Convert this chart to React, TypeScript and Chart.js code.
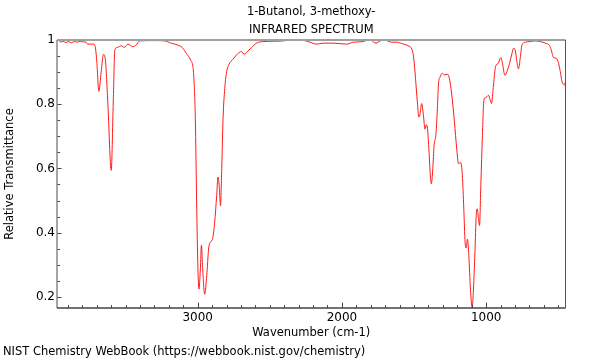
import React, { useEffect, useRef } from "react";
import { Chart, registerables } from "chart.js";

Chart.register(...registerables);

const titleLines = ["1-Butanol, 3-methoxy-", "INFRARED SPECTRUM"];
const footerText = "NIST Chemistry WebBook (https://webbook.nist.gov/chemistry)";
const xAxisTitle = "Wavenumber (cm-1)";
const yAxisTitle = "Relative Transmittance";

const xMajorTicks = [1000, 2000, 3000];
const yMajorTicks = [0.2, 0.4, 0.6, 0.8, 1];

const wavenumbers = [
  3975, 3965, 3950, 3935, 3915, 3895, 3875, 3855, 3835, 3815, 3795, 3773, 3762, 3720, 3710,
  3699, 3685, 3669, 3653, 3641, 3623, 3599, 3585, 3574, 3554, 3530, 3507, 3484, 3449, 3426,
  3403, 3299, 3229, 3183, 3137, 3113, 3102, 3078, 3049, 3033, 3026, 3016, 3007, 2998, 2991,
  2981, 2974, 2965, 2951, 2937, 2924, 2910, 2898, 2882, 2868, 2859, 2849, 2842, 2833, 2824,
  2812, 2801, 2785, 2755, 2720, 2697, 2678, 2655, 2627, 2592, 2546, 2477, 2408, 2361, 2269,
  2222, 2176, 2130, 2060, 1967, 1921, 1852, 1817, 1794, 1764, 1736, 1701, 1655, 1620, 1574,
  1540, 1516, 1505, 1495, 1488, 1477, 1467, 1458, 1447, 1435, 1424, 1415, 1408, 1396, 1387,
  1380, 1370, 1361, 1349, 1338, 1331, 1319, 1304, 1290, 1266, 1255, 1238, 1220, 1204, 1192,
  1176, 1165, 1155, 1146, 1139, 1130, 1120, 1109, 1097, 1088, 1078, 1069, 1062, 1053, 1046,
  1037, 1026, 1016, 1007, 995, 984, 972, 963, 949, 935, 917, 898, 887, 870, 856,
  838, 821, 810, 799, 787, 776, 764, 752, 729, 694, 660, 625, 590, 560, 549,
  533, 514, 498, 486, 474, 465, 458, 451,
];

const transmittance = [
  0.997, 0.999, 0.993, 0.996, 0.992, 0.995, 0.991, 0.995, 0.993, 0.996, 0.994, 0.993, 0.987, 0.987, 0.979,
  0.932, 0.84, 0.9, 0.955, 0.943, 0.807, 0.594, 0.807, 0.969, 0.977, 0.982, 0.977, 0.987, 0.979, 0.984,
  0.997, 0.998, 0.997, 0.99, 0.984, 0.979, 0.974, 0.958, 0.9375, 0.917, 0.88, 0.755, 0.495, 0.286, 0.224,
  0.287, 0.361, 0.286, 0.208, 0.266, 0.349, 0.372, 0.378, 0.432, 0.516, 0.573, 0.537, 0.484, 0.599, 0.755,
  0.849, 0.896, 0.922, 0.94, 0.958, 0.964, 0.955, 0.964, 0.976, 0.99, 0.995, 0.996, 0.997, 1.0, 0.999,
  0.993, 0.987, 0.99, 0.99, 0.987, 0.993, 0.995, 1.0, 0.998, 0.99, 0.997, 0.999, 0.993, 0.993, 0.987,
  0.982, 0.972, 0.953, 0.91, 0.87, 0.807, 0.76, 0.771, 0.802, 0.766, 0.722, 0.736, 0.729, 0.651, 0.578,
  0.552, 0.599, 0.672, 0.703, 0.787, 0.86, 0.885, 0.896, 0.891, 0.893, 0.88, 0.828, 0.745, 0.661, 0.615,
  0.618, 0.578, 0.474, 0.37, 0.352, 0.38, 0.328, 0.224, 0.167, 0.224, 0.338, 0.453, 0.474, 0.443, 0.422,
  0.547, 0.703, 0.8125, 0.82, 0.823, 0.828, 0.8125, 0.802, 0.86, 0.917, 0.927, 0.945, 0.927, 0.89, 0.901,
  0.927, 0.958, 0.974, 0.969, 0.932, 0.91, 0.943, 0.984, 0.993, 0.995, 0.997, 0.995, 0.99, 0.982, 0.969,
  0.945, 0.943, 0.927, 0.901, 0.87, 0.862, 0.865, 0.854,
];

const X_MIN = 450;
const X_MAX = 3975;
const X_STEP = 100;
const Y_MIN = 0.165;
const Y_MAX = 1.0;
const Y_STEP = 0.05;

const near = (a: number, b: number) => Math.abs(a - b) < 1e-6;
const isXMajor = (v: number) => xMajorTicks.some((m) => near(m, v));
const isYMajor = (v: number) => yMajorTicks.some((m) => near(m, v));

const stepValues = (lo: number, hi: number, step: number) => {
  const out: number[] = [];
  const start = Math.ceil(lo / step - 1e-9);
  const end = Math.floor(hi / step + 1e-9);
  for (let k = start; k <= end; k++) out.push(Math.round(k * step * 1000) / 1000);
  return out;
};

const framePlugin = {
  id: "frameTicks",
  afterDatasetsDraw(chart: any) {
    const { ctx, chartArea } = chart;
    const { left, right, top, bottom } = chartArea;
    const xs = chart.scales.x;
    const ys = chart.scales.y;
    ctx.save();
    ctx.strokeStyle = "#444";
    ctx.lineWidth = 1;
    ctx.beginPath();
    for (const t of xs.ticks) {
      if (near(t.value, X_MIN) || near(t.value, X_MAX)) continue;
      const px = Math.round(xs.getPixelForValue(t.value)) + 0.5;
      const len = isXMajor(t.value) ? 5.5 : 3;
      ctx.moveTo(px, bottom);
      ctx.lineTo(px, bottom - len);
    }
    for (const t of ys.ticks) {
      if (near(t.value, Y_MIN) || near(t.value, Y_MAX)) continue;
      const py = Math.round(ys.getPixelForValue(t.value)) + 0.5;
      const len = isYMajor(t.value) ? 4.5 : 3;
      ctx.moveTo(left, py);
      ctx.lineTo(left + len, py);
    }
    ctx.stroke();

    ctx.strokeStyle = "#a0a0a0";
    ctx.lineWidth = 2;
    ctx.beginPath();
    ctx.moveTo(left, top);
    ctx.lineTo(right, top);
    ctx.stroke();

    ctx.strokeStyle = "#888";
    ctx.lineWidth = 1.5;
    ctx.beginPath();
    ctx.moveTo(left, top);
    ctx.lineTo(left, bottom);
    ctx.stroke();

    ctx.strokeStyle = "#444";
    ctx.lineWidth = 1.5;
    ctx.beginPath();
    ctx.moveTo(left, bottom);
    ctx.lineTo(right, bottom);
    ctx.stroke();

    ctx.strokeStyle = "#555";
    ctx.lineWidth = 1;
    ctx.beginPath();
    ctx.moveTo(right, top);
    ctx.lineTo(right, bottom);
    ctx.stroke();
    ctx.restore();
  },
};

export default function App() {
  const canvasRef = useRef<HTMLCanvasElement | null>(null);

  useEffect(() => {
    const canvas = canvasRef.current;
    if (!canvas) return;
    Chart.defaults.font.family = "'DejaVu Sans', sans-serif";
    Chart.defaults.font.size = 12;
    Chart.defaults.color = "#000";

    const chart = new Chart(canvas, {
      type: "line",
      data: {
        datasets: [
          {
            label: "IR",
            data: wavenumbers.map((w, i) => ({ x: w, y: transmittance[i] })),
            borderColor: "#ff1a1a",
            borderWidth: 1,
            pointRadius: 0,
            fill: false,
            cubicInterpolationMode: "monotone",
          },
        ],
      },
      options: {
        responsive: false,
        animation: false,
        events: [],
        layout: { padding: { left: 3, right: 34.5, top: 0, bottom: 0 } },
        plugins: {
          legend: { display: false },
          tooltip: { enabled: false },
          title: {
            display: true,
            text: titleLines,
            fullSize: false,
            color: "#000",
            font: { size: 11.5, weight: "normal", lineHeight: 1.55 },
            padding: { top: 3, bottom: 1.3 },
          },
          subtitle: {
            display: true,
            text: footerText,
            position: "bottom",
            align: "start",
            color: "#000",
            font: { size: 11.5, weight: "normal", lineHeight: 1.2 },
            padding: { top: 0, bottom: 1 },
          },
        },
        scales: {
          x: {
            type: "linear",
            reverse: true,
            min: X_MIN,
            max: X_MAX,
            grid: { display: false, drawTicks: false },
            border: { display: false },
            afterBuildTicks: (scale: any) => {
              scale.ticks = stepValues(X_MIN, X_MAX, X_STEP).map((v) => ({ value: v }));
            },
            ticks: {
              autoSkip: false,
              maxRotation: 0,
              padding: 3,
              color: "#000",
              callback: (v: any) => (isXMajor(Number(v)) ? String(v) : ""),
            },
            title: {
              display: true,
              text: xAxisTitle,
              color: "#000",
              font: { size: 11.5 },
              padding: { top: 0, bottom: 5 },
            },
            afterFit: (scale: any) => {
              scale.height = 37.1;
            },
          },
          y: {
            type: "linear",
            min: Y_MIN,
            max: Y_MAX,
            grid: { display: false, drawTicks: false },
            border: { display: false },
            afterBuildTicks: (scale: any) => {
              scale.ticks = stepValues(Y_MIN, Y_MAX, Y_STEP).map((v) => ({ value: v }));
            },
            ticks: {
              autoSkip: false,
              padding: 2,
              color: "#000",
              callback: (v: any) => {
                const n = Number(v);
                if (!isYMajor(n)) return "";
                return near(n, 1) ? "1" : n.toFixed(1);
              },
            },
            title: {
              display: true,
              text: yAxisTitle,
              color: "#000",
              font: { size: 11.5 },
              padding: { top: 0, bottom: 0 },
            },
            afterFit: (scale: any) => {
              scale.width = 54;
            },
          },
        },
      },
      plugins: [framePlugin],
    });
    return () => chart.destroy();
  }, []);

  return (
    <div style={{ position: "fixed", left: 0, top: 0, width: 600, height: 360, background: "#fff" }}>
      <canvas ref={canvasRef} width={600} height={360} style={{ width: 600, height: 360 }} />
    </div>
  );
}
